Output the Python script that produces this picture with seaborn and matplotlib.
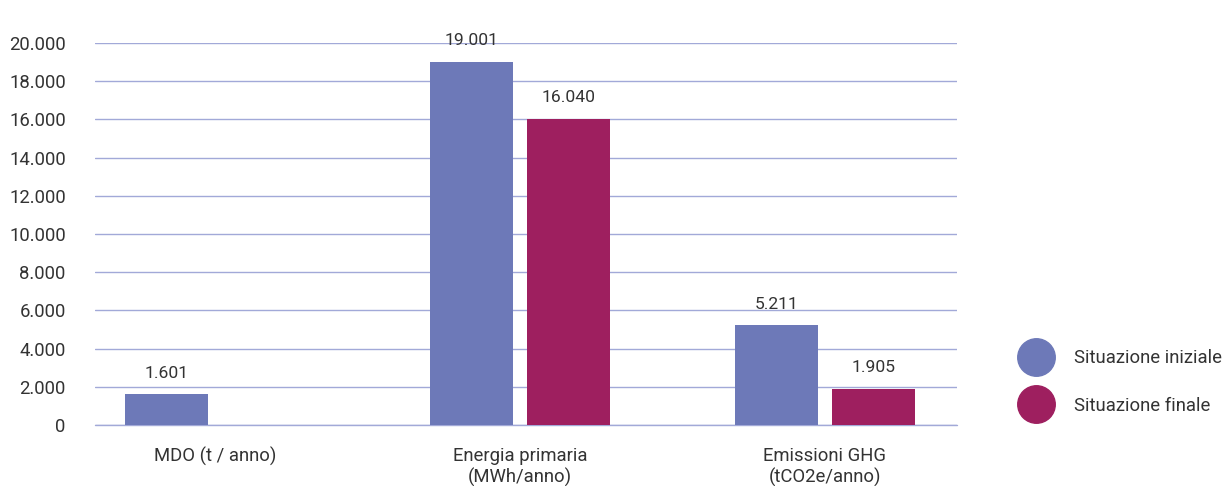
import matplotlib
matplotlib.use("Agg")
import matplotlib.pyplot as plt
from matplotlib.lines import Line2D
import numpy as np
import pandas as pd
import seaborn as sns

# Data
categories = ["MDO (t / anno)", "Energia primaria\n(MWh/anno)", "Emissioni GHG\n(tCO2e/anno)"]
series_names = ["Situazione iniziale", "Situazione finale"]
iniziale = [1601, 19001, 5211]
finale = [np.nan, 16040, 1905]
y_ticks = [0, 2000, 4000, 6000, 8000, 10000, 12000, 14000, 16000, 18000, 20000]

colors = ["#6d79b8", "#9e1f5f"]
grid_color = "#a2a9d8"
text_color = "#333333"
fs = 13.3

df = pd.DataFrame({
    "categoria": categories * 2,
    "serie": [series_names[0]] * 3 + [series_names[1]] * 3,
    "valore": iniziale + finale,
})

sns.set_theme(style="white")
plt.rcParams["font.family"] = ["Roboto", "DejaVu Sans"]

fig = plt.figure(figsize=(12.32, 4.86), dpi=100)
ax = fig.add_axes([95 / 1232, 1 - 425 / 486, (957 - 95) / 1232, (425 - 43) / 486])

sns.barplot(data=df, x="categoria", y="valore", hue="serie", order=categories,
            hue_order=series_names, palette=colors, width=0.636, gap=0.144,
            saturation=1, linewidth=0, ax=ax, legend=False, errorbar=None)

def it_fmt(v):
    return f"{v:,.0f}".replace(",", ".")

for cont in ax.containers:
    ax.bar_label(cont, fmt=it_fmt, padding=10, fontsize=12.6, color=text_color)

ax.set_ylim(0, 20000)
ax.set_xlim(-0.393, 2.433)
ax.set_yticks(y_ticks)
ax.set_yticklabels([it_fmt(t) for t in y_ticks])
ax.yaxis.grid(True, color=grid_color, linewidth=1)
ax.axhline(0, color=grid_color, linewidth=1, clip_on=False, zorder=0.5)
ax.set_axisbelow(True)
for s in ax.spines.values():
    s.set_visible(False)
ax.tick_params(axis="y", length=0, pad=21, labelsize=fs, labelcolor=text_color)
ax.tick_params(axis="x", length=0, pad=16, labelsize=fs, labelcolor=text_color)
for lbl in ax.get_xticklabels():
    lbl.set_linespacing(1.2)
ax.set_xlabel("")
ax.set_ylabel("")

handles = [Line2D([], [], marker="o", linestyle="", markersize=27,
                  markerfacecolor=c, markeredgecolor=c) for c in colors]
fig.legend(handles, series_names, loc="center left",
           bbox_to_anchor=(1014 / 1232, 1 - 382 / 486), frameon=False,
           fontsize=13.3, labelcolor=text_color, handletextpad=1.35,
           labelspacing=1.6, borderpad=0, handlelength=1.4)

fig.savefig("out.png", dpi=100, facecolor="white")
